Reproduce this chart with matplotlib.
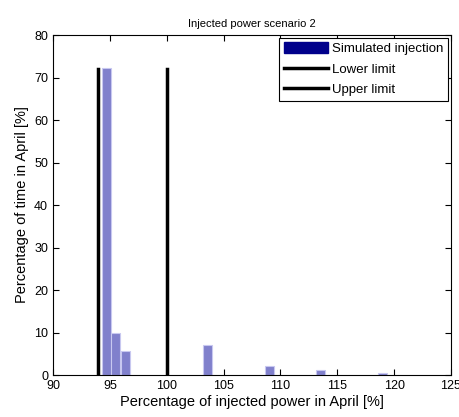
import matplotlib
matplotlib.use('Agg')
import matplotlib.pyplot as plt
from matplotlib.patches import Patch
from matplotlib.lines import Line2D

plt.rcParams['font.family'] = ['Liberation Sans', 'DejaVu Sans']

# histogram bins
bin_centers = [94.68, 95.52, 96.40, 103.60, 109.05, 113.55, 119.00]
bin_heights = [72.3, 10.0, 5.6, 7.1, 2.1, 1.2, 0.5]
bin_width = 0.82
lower_limit = 94
upper_limit = 100
limit_height = 72

fig = plt.figure(figsize=(4.59, 4.17), dpi=100)
ax = fig.add_axes([0.1155, 0.1007, 0.867, 0.8153])

ax.bar(bin_centers, bin_heights, width=bin_width, color='#8080cc',
       edgecolor='#c8c8f0', linewidth=0.8, zorder=2)
ax.plot([lower_limit, lower_limit], [0, limit_height], color='black', lw=2.5, zorder=3)
ax.plot([upper_limit, upper_limit], [0, limit_height], color='black', lw=2.5, zorder=3)

ax.set_xlim(90, 125)
ax.set_ylim(0, 80)
ax.set_xticks(range(90, 126, 5))
ax.set_yticks(range(0, 81, 10))
ax.tick_params(direction='in', top=True, right=True, labelsize=9, length=4)
for s in ax.spines.values():
    s.set_linewidth(0.8)

ax.set_title('Injected power scenario 2', fontsize=8)
ax.set_xlabel('Percentage of injected power in April [%]', fontsize=10.5, labelpad=2)
ax.set_ylabel('Percentage of time in April [%]', fontsize=10.5, labelpad=4)

handles = [Patch(facecolor='#00008b', edgecolor='#00008b'),
           Line2D([], [], color='black', lw=2.5),
           Line2D([], [], color='black', lw=2.5)]
leg = ax.legend(handles, ['Simulated injection', 'Lower limit', 'Upper limit'],
                loc='upper right', fontsize=9.5, fancybox=False, framealpha=1,
                edgecolor='black', borderaxespad=0.2, handlelength=3.4,
                handleheight=0.9, labelspacing=0.55, handletextpad=0.3,
                borderpad=0.35)
leg.get_frame().set_linewidth(0.8)

fig.savefig('out.png', dpi=100)
